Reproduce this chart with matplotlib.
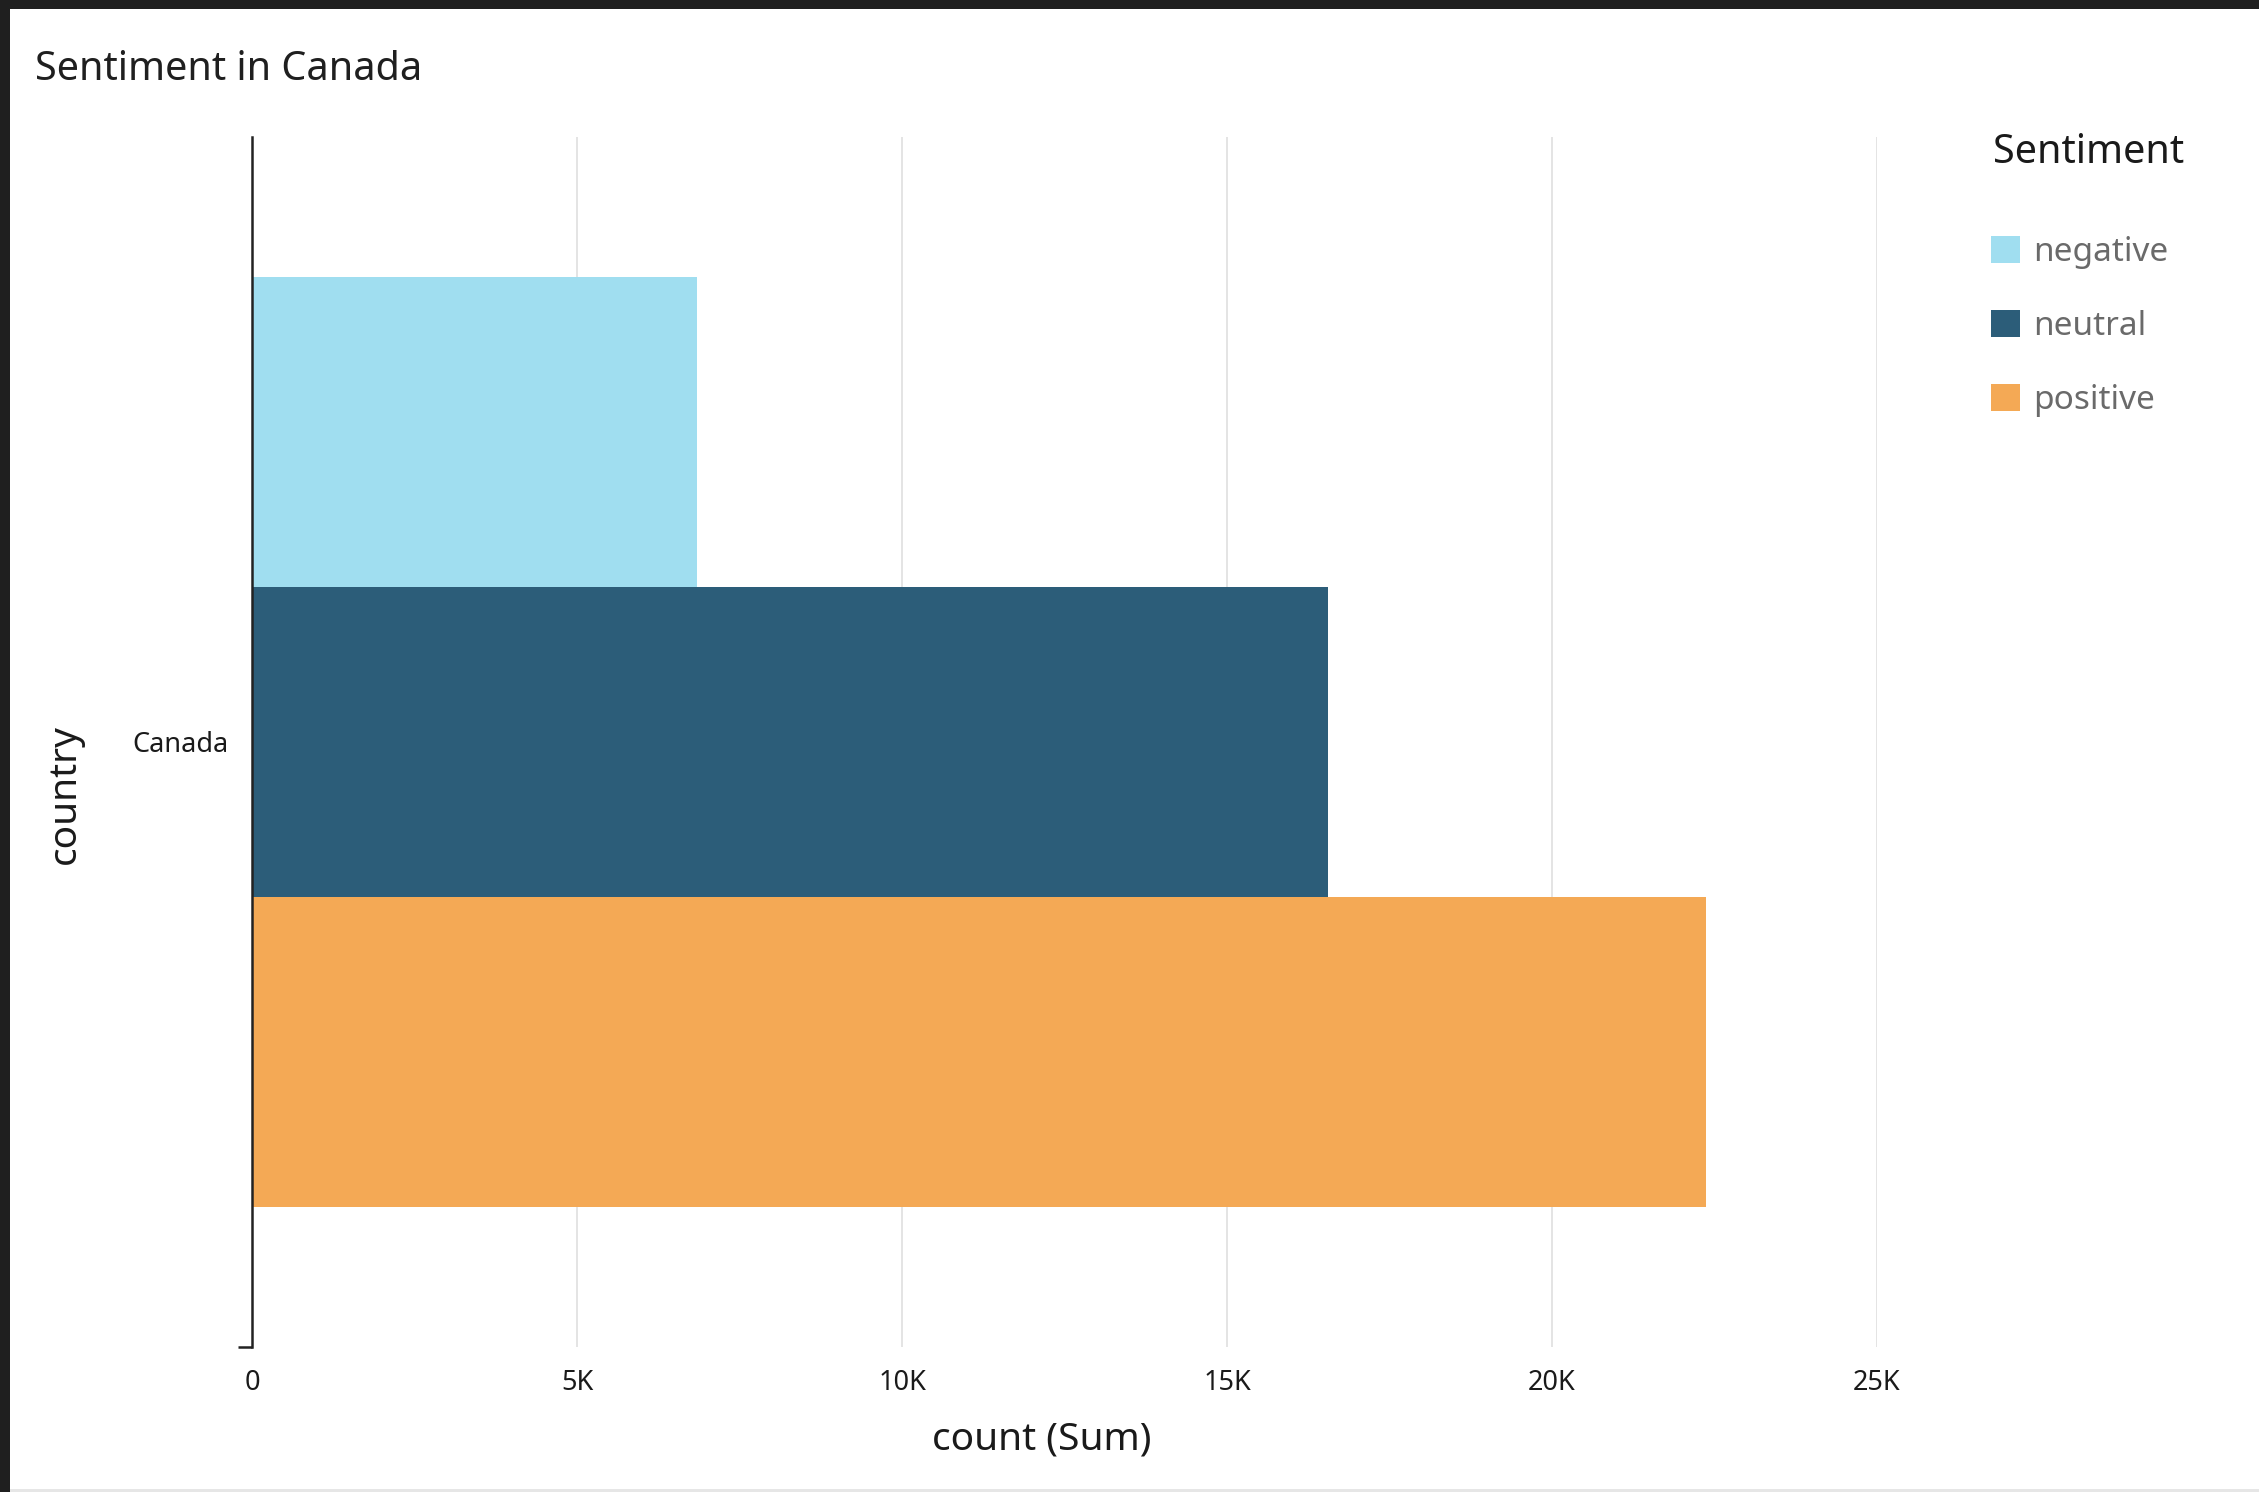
import matplotlib
matplotlib.use("Agg")
import matplotlib.pyplot as plt
from matplotlib.patches import Rectangle, Patch
from matplotlib.ticker import FuncFormatter

plt.rcParams["font.family"] = ["Noto Sans", "DejaVu Sans"]

# data
country = "Canada"
sentiments = ["negative", "neutral", "positive"]
counts = [6850, 16560, 22370]
colors = ["#A0DEF0", "#2C5D79", "#F4A955"]
x_ticks = [0, 5000, 10000, 15000, 20000, 25000]

W, H = 2259, 1492
fig = plt.figure(figsize=(W / 100, H / 100), dpi=100, facecolor="white")

def fx(px):
    return px / W

def fy(py):
    return 1 - py / H

# plot area
left, right, top, bottom = 252, 1877, 137, 1347
ax = fig.add_axes([fx(left), fy(bottom), fx(right - left), (bottom - top) / H])

positions = [-1, 0, 1]
for pos, val, col in zip(positions, counts, colors):
    ax.barh(pos, val, height=1.0, color=col, edgecolor="none", zorder=2)

ax.set_xlim(0, 25000)
ax.set_ylim(1.95, -1.95)

ax.set_xticks(x_ticks)
ax.xaxis.set_major_formatter(FuncFormatter(lambda v, _: "0" if v == 0 else f"{int(v / 1000)}K"))
ax.set_yticks([0])
ax.set_yticklabels([country])
ax.set_yticks([1.95], minor=True)

ax.tick_params(axis="x", length=0, pad=16, labelsize=19.5, labelcolor="#1A1A1A")
ax.tick_params(axis="y", which="major", length=0, pad=16.5, labelsize=19.5, labelcolor="#1A1A1A")
ax.tick_params(axis="y", which="minor", length=10, width=1.8, color="#222222")

ax.grid(axis="x", color="#DDDDDD", linewidth=1.1, zorder=0)
ax.set_axisbelow(True)
for side in ("top", "right", "bottom"):
    ax.spines[side].set_visible(False)
ax.spines["left"].set_color("#222222")
ax.spines["left"].set_linewidth(1.8)
ax.spines["left"].set_zorder(3)

# titles and axis labels
fig.text(fx(35), fy(80), "Sentiment in Canada", fontsize=28.5, color="#1F1F1F",
         ha="left", va="baseline")
fig.text(fx(1042), fy(1440), "count (Sum)", fontsize=28, color="#1A1A1A",
         ha="center", va="center")
fig.text(fx(65), fy(794), "country", fontsize=28, color="#1A1A1A",
         ha="center", va="center", rotation=90)

# legend
fig.text(fx(1993), fy(163), "Sentiment", fontsize=28.5, color="#1A1A1A",
         ha="left", va="baseline")
handles = [Patch(facecolor=c, edgecolor="none", label=s) for s, c in zip(sentiments, colors)]
fig.legend(handles=handles, loc="upper left", bbox_to_anchor=(fx(1991), fy(236)),
           frameon=False, fontsize=24, labelcolor="#6A6A6A",
           handlelength=0.87, handleheight=0.87, handletextpad=0.4,
           labelspacing=1.23, borderpad=0, borderaxespad=0)

# window frame
fig.patches.append(Rectangle((0, fy(9)), 1, 9 / H, transform=fig.transFigure,
                             facecolor="#1F1F1F", edgecolor="none", zorder=10))
fig.patches.append(Rectangle((0, 0), fx(10), 1, transform=fig.transFigure,
                             facecolor="#1F1F1F", edgecolor="none", zorder=10))
fig.patches.append(Rectangle((fx(10), 0), 1, 3 / H, transform=fig.transFigure,
                             facecolor="#E6E6E6", edgecolor="none", zorder=10))

fig.savefig("out.png", dpi=100, facecolor="white")
